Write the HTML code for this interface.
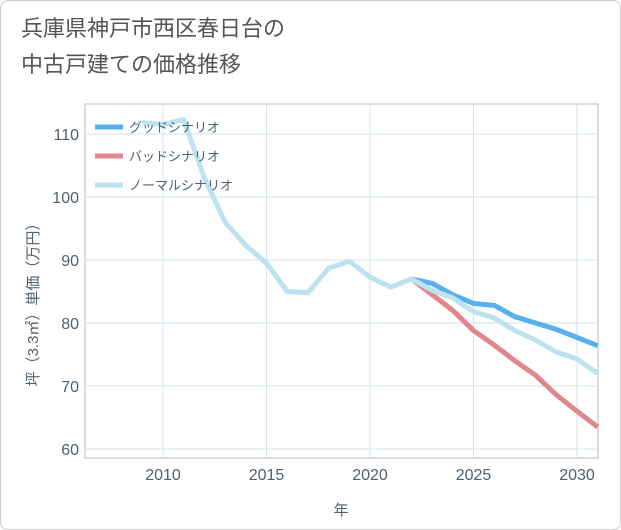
<!DOCTYPE html>
<html><head><meta charset="utf-8"><style>
body{margin:0;background:#fff;font-family:"Liberation Sans","Noto Sans CJK JP",sans-serif;}
#wrap{position:relative;width:619px;height:528px;border:1px solid #ccc;border-radius:8px;overflow:hidden;background:#fff}
h1{position:absolute;left:20px;top:10px;margin:0;font-size:22px;font-weight:normal;color:#555;line-height:36px;}
</style></head><body>
<div id="wrap">
<h1>兵庫県神戸市西区春日台の<br>中古戸建ての価格推移</h1>
<svg id="c" width="621" height="530" style="position:absolute;left:0;top:0"></svg>
</div>
<script>
const years=[2009,2010,2011,2012,2013,2014,2015,2016,2017,2018,2019,2020,2021,2022,2023,2024,2025,2026,2027,2028,2029,2030,2031];
const normal=[111.8,111.5,112.3,103,96,92.3,89.5,85,84.8,88.7,89.8,87.3,85.7,87,85.2,84,81.8,80.8,78.8,77.3,75.4,74.3,72];
const goodYears=[2022,2023,2024,2025,2026,2027,2028,2029,2030,2031];
const good=[87,86.3,84.5,83.1,82.8,81,80,79,77.7,76.4];
const bad=[87,84.5,82,78.8,76.5,74,71.7,68.6,66,63.5];
const xTicks=[2010,2015,2020,2025,2030];
const yTicks=[60,70,80,90,100,110];
const NS="http://www.w3.org/2000/svg",svg=document.getElementById('c');
const L=84,R=597,T=103,B=457;
const TC='#50606e';
const x=y=>162+(y-2010)*(576-162)/20;
const yy=v=>448-(v-60)*(448-133)/50;
function el(t,a,p){const e=document.createElementNS(NS,t);for(const k in a)e.setAttribute(k,a[k]);(p||svg).appendChild(e);return e;}
let fr=el('rect',{x:L,y:T,width:R-L,height:B-T,fill:'none',stroke:'#bbb'});

xTicks.forEach(t=>{let g=el('line',{x1:x(t),x2:x(t),y1:T,y2:B,stroke:'#d5e3ee'});

let tx=el('text',{x:x(t),y:479,'text-anchor':'middle','font-size':16,fill:TC});tx.textContent=t;
});
yTicks.forEach(t=>{let g=el('line',{x1:L,x2:R,y1:yy(t),y2:yy(t),stroke:'#d5e3ee'});

let tx=el('text',{x:78,y:yy(t)+6,'text-anchor':'end','font-size':16,fill:TC});tx.textContent=t;
});
let xt=el('text',{x:340,y:514,'text-anchor':'middle','font-size':15,fill:TC});xt.textContent='年';

let yt=el('text',{x:0,y:0,'text-anchor':'middle','font-size':15,fill:TC,transform:'translate(37,300) rotate(-90)'});yt.textContent='坪（3.3㎡）単価（万円）';

function line(xs,vs,c,n){let p=el('polyline',{points:xs.map((d,i)=>x(d)+','+yy(vs[i])).join(' '),fill:'none',stroke:c,'stroke-width':5,'stroke-linejoin':'round'});
}
line(goodYears,bad,'#e0868f','bad-scenario-line');
line(goodYears,good,'#5ab0ee','good-scenario-line');
line(years,normal,'#bde2f0','normal-scenario-line');
[['グッドシナリオ','#5ab0ee'],['バッドシナリオ','#e0868f'],['ノーマルシナリオ','#bde2f0']].forEach((d,i)=>{
let g=el('g',{});
el('line',{x1:94,x2:122,y1:126+i*29,y2:126+i*29,stroke:d[1],'stroke-width':5},g);
let t=el('text',{x:128,y:131+i*29,'font-size':13,fill:TC},g);t.textContent=d[0];});
</script>
</body></html>
